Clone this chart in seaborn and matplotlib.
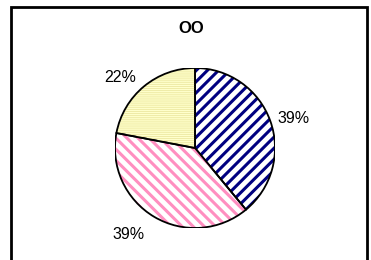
import matplotlib
matplotlib.use("Agg")
import numpy as np
import matplotlib.pyplot as plt
import seaborn as sns
from matplotlib.patches import Rectangle, Wedge

# data
categories = ["A", "B", "C"]
shares = [39, 39, 22]
face_colors = ["white", "white", "#ffffcc"]
hatch_colors = ["#000080", "#ff8fc0", "#ece8a0"]
hatches = ["///", "\\\\\\", "--------"]
hatch_widths = [2.2, 2.2, 0.6]
label_dist = [1.1, 1.25, 1.15]
title = "OO"

sns.set_style("white")
plt.rcParams['font.family'] = ['Liberation Sans', 'DejaVu Sans']
plt.rcParams['text.color'] = 'black'

W, H = 371, 260
fig = plt.figure(figsize=(W / 100, H / 100), dpi=100)

# outer chart border (bottom edge runs off the image)
fig.patches.append(Rectangle((11 / W, -0.05), (367 - 11) / W, 1.05 - 7 / H,
                             transform=fig.transFigure, fill=False,
                             edgecolor="black", linewidth=2.0))

# pie axes: center (195,148), radius 80 px
cx, cy, r = 195, 148, 80
ax = fig.add_axes([(cx - r) / W, (H - cy - r) / H, 2 * r / W, 2 * r / H])

wedges, texts, autotexts = ax.pie(
    shares, startangle=90, counterclock=False, radius=1,
    colors=face_colors, autopct="%1.0f%%", pctdistance=1.2,
    wedgeprops=dict(linewidth=0),
    textprops=dict(fontsize=11.5, color="black"))
ax.set_xlim(-1, 1)
ax.set_ylim(-1, 1)
ax.set_aspect("equal")
ax.axis("off")

for w, hc, h, lw in zip(wedges, hatch_colors, hatches, hatch_widths):
    plt.rcParams['hatch.linewidth'] = lw
    # hatch layer
    hw = Wedge(w.center, w.r, w.theta1, w.theta2, facecolor="none",
               edgecolor=hc, hatch=h, linewidth=0)
    if hasattr(hw, "set_hatch_linewidth"):
        hw.set_hatch_linewidth(lw)
    ax.add_patch(hw)
    # black outline
    ow = Wedge(w.center, w.r, w.theta1, w.theta2, facecolor="none",
               edgecolor="black", linewidth=1.3)
    ax.add_patch(ow)

# excel-style labels: anchored on the side facing the pie
for w, t, d in zip(wedges, autotexts, label_dist):
    mid = np.deg2rad((w.theta1 + w.theta2) / 2)
    x, y = np.cos(mid) * d, np.sin(mid) * d
    t.set_position((x, y))
    t.set_ha("left" if x > 0 else "right")
    t.set_va("center")

fig.text(191 / W, 1 - 28 / H, title, ha="center", va="center",
         fontsize=12, fontweight="bold", color="black")

fig.savefig("out.png", dpi=100)
